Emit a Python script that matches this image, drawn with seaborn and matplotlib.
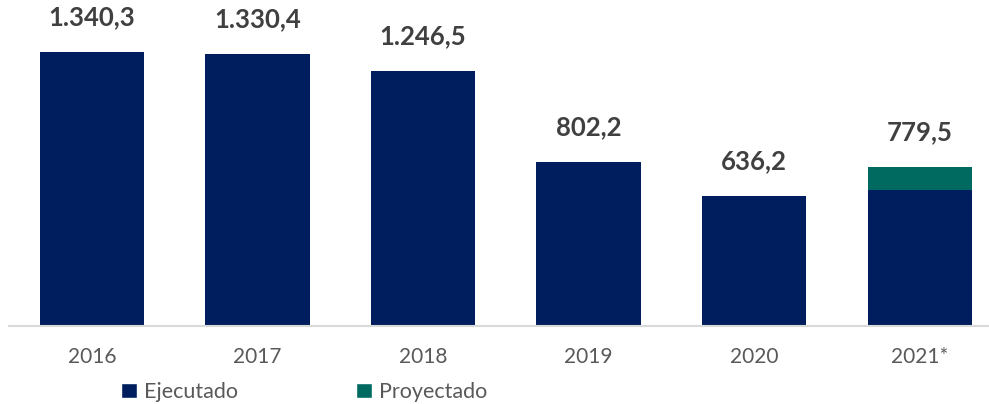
import matplotlib
matplotlib.use('Agg')
import matplotlib.pyplot as plt
from matplotlib.patches import Patch
import seaborn as sns
import pandas as pd

# Datos del gráfico
years = ['2016', '2017', '2018', '2019', '2020', '2021*']
ejecutado = [1340.3, 1330.4, 1246.5, 802.2, 636.2, 665.0]
proyectado = [0.0, 0.0, 0.0, 0.0, 0.0, 114.5]
etiquetas = [1340.3, 1330.4, 1246.5, 802.2, 636.2, 779.5]

NAVY = '#001E5E'
GREEN = '#006A60'
GRIS_TXT = '#595959'

sns.set_style('white')
plt.rcParams['font.family'] = ['Lato', 'DejaVu Sans']

df = pd.DataFrame({'year': years, 'ejecutado': ejecutado, 'proyectado': proyectado})
df['total'] = df['ejecutado'] + df['proyectado']

fig = plt.figure(figsize=(9.89, 4.04), dpi=100)
ax = fig.add_axes([9 / 989, 78 / 404, 980 / 989, 326 / 404])

sns.barplot(data=df, x='year', y='total', color=GREEN, width=0.63,
            saturation=1, linewidth=0, ax=ax)
sns.barplot(data=df, x='year', y='ejecutado', color=NAVY, width=0.63,
            saturation=1, linewidth=0, ax=ax)

def fmt_es(v):
    return f"{v:,.1f}".replace(',', 'X').replace('.', ',').replace('X', '.')

for i, v in enumerate(etiquetas):
    ax.annotate(fmt_es(v), (i, df['total'][i]), xytext=(0, 25), textcoords='offset points',
                ha='center', va='center', fontsize=18.5, fontweight='bold', color='#404040')

ax.set_xlim(-0.5, -0.5 + 980 / 165.6)
ax.set_ylim(0, 1595)
ax.set_xlabel('')
ax.set_ylabel('')
ax.set_yticks([])
for s in ['top', 'right', 'left']:
    ax.spines[s].set_visible(False)
ax.spines['bottom'].set_color('#D9D9D9')
ax.spines['bottom'].set_linewidth(1.5)
ax.tick_params(axis='x', length=0, pad=15, labelsize=15, labelcolor=GRIS_TXT)

handles = [Patch(facecolor=NAVY, label='Ejecutado'), Patch(facecolor=GREEN, label='Proyectado')]
fig.legend(handles=handles, loc='center left', bbox_to_anchor=(121 / 989, 1 - 392 / 404),
           ncol=2, frameon=False, fontsize=15.5, handlelength=0.75, handleheight=0.75,
           handletextpad=0.3, columnspacing=5.5, borderpad=0, borderaxespad=0,
           labelcolor=GRIS_TXT)

plt.savefig('out.png', dpi=100)
plt.close()
